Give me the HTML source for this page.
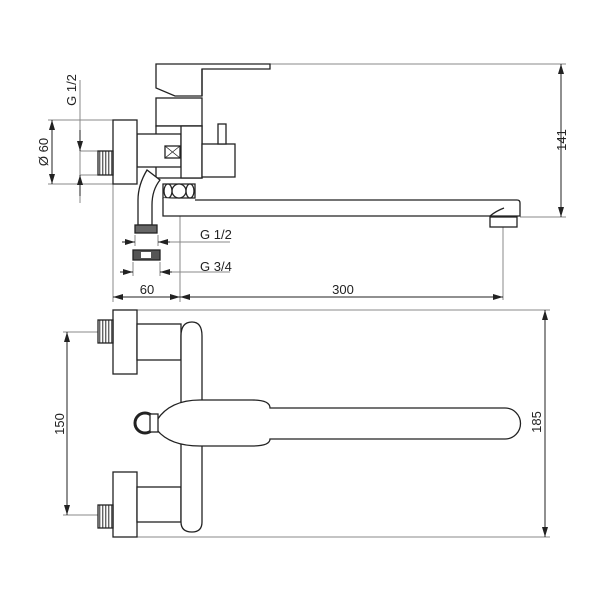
<!DOCTYPE html>
<html><head><meta charset="utf-8"><style>body{margin:0;background:#fff}svg{display:block}text{font-family:"Liberation Sans",sans-serif;font-size:13px;fill:#222}</style></head><body>
<svg width="600" height="600" viewBox="0 0 600 600" xmlns="http://www.w3.org/2000/svg">
<defs><marker id="a" viewBox="0 0 10 6" refX="10" refY="3" markerWidth="10" markerHeight="6" orient="auto-start-reverse" markerUnits="userSpaceOnUse"><path d="M0,0L10,3L0,6z" fill="#222"/></marker>
<pattern id="th" width="3" height="3" patternUnits="userSpaceOnUse"><rect width="3" height="3" fill="#fff"/><rect width="1.4" height="3" fill="#666"/></pattern></defs>
<g fill="none" stroke="#888" stroke-width="1">
<line x1="270" y1="64" x2="566" y2="64"/><line x1="520" y1="217" x2="566" y2="217"/>
<line x1="48" y1="120" x2="113" y2="120"/><line x1="48" y1="184" x2="113" y2="184"/>
<line x1="80" y1="80" x2="80" y2="203"/>
<line x1="80" y1="151" x2="98" y2="151"/><line x1="80" y1="175" x2="98" y2="175"/>
<line x1="113" y1="184" x2="113" y2="302"/><line x1="180" y1="210" x2="180" y2="302"/><line x1="503" y1="222" x2="503" y2="300"/>
<line x1="135" y1="235" x2="135" y2="246"/><line x1="158" y1="235" x2="158" y2="246"/>
<line x1="133" y1="262" x2="133" y2="276"/><line x1="160" y1="262" x2="160" y2="276"/>
<line x1="160" y1="242" x2="230" y2="242"/><line x1="160" y1="272" x2="230" y2="272"/>
<line x1="113" y1="310" x2="550" y2="310"/><line x1="113" y1="537" x2="550" y2="537"/>
<line x1="63" y1="332" x2="98" y2="332"/><line x1="63" y1="515" x2="98" y2="515"/>
</g>
<g stroke="#222" stroke-width="1" fill="none">
<line x1="561" y1="64" x2="561" y2="217" marker-start="url(#a)" marker-end="url(#a)"/>
<line x1="52" y1="120" x2="52" y2="184" marker-start="url(#a)" marker-end="url(#a)"/>
<line x1="80" y1="130" x2="80" y2="151" marker-end="url(#a)"/>
<line x1="80" y1="196" x2="80" y2="175" marker-end="url(#a)"/>
<line x1="122" y1="242" x2="135" y2="242" marker-end="url(#a)"/><line x1="170" y1="242" x2="158" y2="242" marker-end="url(#a)"/>
<line x1="120" y1="272" x2="133" y2="272" marker-end="url(#a)"/><line x1="172" y1="272" x2="160" y2="272" marker-end="url(#a)"/>
<line x1="113" y1="297" x2="180" y2="297" marker-start="url(#a)" marker-end="url(#a)"/>
<line x1="180" y1="297" x2="503" y2="297" marker-start="url(#a)" marker-end="url(#a)"/>
<line x1="67" y1="332" x2="67" y2="515" marker-start="url(#a)" marker-end="url(#a)"/>
<line x1="545" y1="310" x2="545" y2="537" marker-start="url(#a)" marker-end="url(#a)"/>
</g>
<g stroke="#222" stroke-width="1.3" fill="#fff">
<path d="M156,64 H270 V69 H202 V96 H175 L156,88 Z"/>
<line x1="202" y1="69" x2="202" y2="96"/>
<rect x="156" y="98" width="46" height="28"/>
<rect x="156" y="126" width="46" height="52"/>
<rect x="137" y="134" width="44" height="33"/>
<rect x="165" y="146" width="15" height="12"/><path d="M165,146L180,158M180,146L165,158" stroke-width="0.8"/>
<rect x="181" y="126" width="21" height="52"/>
<rect x="202" y="144" width="33" height="33"/>
<rect x="218" y="124" width="8" height="20"/>
<rect x="113" y="120" width="24" height="64"/>
<rect x="98" y="151" width="15" height="24" fill="url(#th)"/>
<path d="M147,170 Q138,185 138,200 V225 H152 V205 Q152,190 160,180 Z"/>
<rect x="135" y="225" width="22" height="8" fill="#666"/>
<rect x="133" y="250" width="27" height="10" fill="#555"/><rect x="141" y="252" width="10" height="6" fill="#fff" stroke="none"/>
<path d="M163,184H195V198H163Z"/>
<circle cx="179" cy="191" r="7"/><ellipse cx="168" cy="191" rx="4" ry="7"/><ellipse cx="190" cy="191" rx="4" ry="7"/>
<path d="M163,198 V216 H520 V203 Q520,200 517,200 H195"/>
<path d="M490,216 Q496,211 504,208" fill="none"/>
<rect x="490" y="217" width="27" height="10"/>
<rect x="113" y="310" width="24" height="64"/>
<rect x="98" y="320" width="15" height="23" fill="url(#th)"/>
<rect x="137" y="324" width="44" height="36"/>
<rect x="113" y="472" width="24" height="65"/>
<rect x="98" y="505" width="15" height="23" fill="url(#th)"/>
<rect x="137" y="487" width="44" height="35"/>
<path d="M181,336 Q181,322 192,322 Q202,322 202,336 V522 Q202,532 192,532 Q181,532 181,522 Z"/>
<circle cx="145" cy="423" r="10" fill="#fff" stroke-width="3"/>
<path d="M157,420 Q170,400 200,400 H252 Q270,400 270,408 H505 A15.5,15.5 0 0 1 505,439 H270 Q270,446 252,446 H200 Q170,446 157,430 Z"/>
<rect x="150" y="414" width="8" height="18"/>
</g>
<g>
<text transform="translate(566,140) rotate(-90)" text-anchor="middle">141</text>
<text transform="translate(48,152) rotate(-90)" text-anchor="middle">Ø 60</text>
<text transform="translate(76,90) rotate(-90)" text-anchor="middle">G 1/2</text>
<text x="200" y="239">G 1/2</text>
<text x="200" y="271">G 3/4</text>
<text x="147" y="294" text-anchor="middle">60</text>
<text x="343" y="294" text-anchor="middle">300</text>
<text transform="translate(64,424) rotate(-90)" text-anchor="middle">150</text>
<text transform="translate(541,422) rotate(-90)" text-anchor="middle">185</text>
</g>
</svg>
</body></html>
